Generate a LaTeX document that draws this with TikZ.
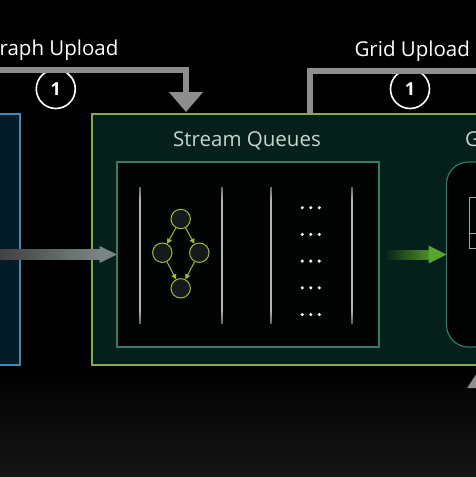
\documentclass[tikz,border=0pt]{standalone}
\usepackage{fontspec}
\setmainfont{Open Sans}
\usetikzlibrary{arrows.meta,calc}
\definecolor{bluebd}{HTML}{3A8CC0}
\definecolor{bluefill}{HTML}{041C28}
\definecolor{greenbd}{HTML}{8CAB3C}
\definecolor{greenfill}{HTML}{05201A}
\definecolor{innerbd}{HTML}{3A7A64}
\definecolor{innerfill}{HTML}{020404}
\definecolor{roundbd}{HTML}{2F7A62}
\definecolor{titletext}{HTML}{C3D6CE}
\definecolor{conngray}{HTML}{8E8E8E}
\definecolor{arrowgray}{HTML}{7A8585}
\definecolor{nodegreen}{HTML}{9CBB34}
\definecolor{nodefill}{HTML}{18191A}
\definecolor{flowgreen}{HTML}{5AA52C}
\definecolor{tablegray}{HTML}{A8A8A8}
\definecolor{bgbottom}{HTML}{151515}
\definecolor{qgray}{HTML}{B4B4B4}
\begin{document}
\begin{tikzpicture}[x=1pt,y=-1pt,
  box/.style={inner sep=0pt, outer sep=0pt, line width=1.4pt},
  bigtext/.style={font=\fontsize{20.5}{24}\selectfont},
  stepnum/.style={circle, draw=white, line width=1.6pt, fill=black, minimum size=39pt, inner sep=0pt, text=white, font=\bfseries\fontsize{18}{20}\selectfont},
  conn/.style={draw=conngray, line width=6pt},
  gnode/.style={circle, minimum size=19.4pt, inner sep=0pt, draw=nodegreen, fill=nodefill, line width=1pt},
  garrow/.style={draw=nodegreen, line width=1pt, -{Triangle[length=5pt,width=5pt]}},
  dotmark/.style={circle, fill=white, minimum size=3.4pt, inner sep=0pt}
]
\useasboundingbox (0,0) rectangle (476,477);
\clip (0,0) rectangle (476,477);
\fill[black] (0,0) rectangle (476,477);
\shade[top color=black, bottom color=bgbottom] (0,365) rectangle (476,477);

% step circles (drawn below connector lines)
\node[stepnum] (s1) at (55.8,89) {1};
\node[stepnum] (s2) at (410,89) {1};

% top connectors
\coordinate (gstart) at (-10,70);
\coordinate (gtip) at (186,112);
\draw[conn, -{Triangle[length=20pt,width=33pt]}] (gstart) -| (gtip);
\coordinate (rstart) at (490,71);
\coordinate (rend) at (309.5,114);
\draw[conn] (rstart) -| (rend);

% labels
\node[bigtext, text=white, anchor=base east] (lblgraph) at (122,55.5) {Graph Upload};
\node[bigtext, text=white, anchor=base west] (lblgrid) at (351,56.5) {Grid Upload};

% boxes
\node[box, draw=bluebd, fill=bluefill, minimum width=30pt, minimum height=251pt] (cpu) at (5,239.5) {};
\node[box, draw=greenbd, fill=greenfill, minimum width=408pt, minimum height=251pt] (green) at (296,239.5) {};
\node[box, draw=innerbd, fill=innerfill, line width=1.2pt, minimum width=262pt, minimum height=185pt] (inner) at (248,254.5) {};
\node[box, draw=roundbd, fill=innerfill, line width=1.2pt, rounded corners=22pt, minimum width=94pt, minimum height=185pt] (rbox) at (493.5,254.5) {};

\node[bigtext, text=titletext, anchor=base] (sq) at (247,146) {Stream Queues};
\node[bigtext, text=titletext, anchor=base west] (gmu) at (461.5,146) {G};

% table inside round box
\node[box, draw=tablegray, line width=0.8pt, minimum width=40pt, minimum height=51pt, anchor=north west] (tbl) at (469,197) {};
\coordinate (tl) at (469,233);
\coordinate (tr) at (510,233);
\draw[tablegray, line width=0.8pt] (tl) -- (tr);

% gray arrow from left box into queues
\shade[left color=black!75!white, right color=arrowgray] (-2,249.8) rectangle ($(inner.west)+(-17,4.7)$);
\fill[arrowgray] ($(inner.west)+(-17.5,-8.5)$) -- (inner.west) -- ($(inner.west)+(-17.5,8.5)$) -- cycle;

% green arrow into round box
\shade[left color=greenfill, right color=flowgreen!85!black] (384,250) rectangle ($(rbox.west)+(-18,4.5)$);
\fill[flowgreen] ($(rbox.west)+(-18,-9)$) -- (rbox.west) -- ($(rbox.west)+(-18,9)$) -- cycle;

% queue separator lines
\foreach \xx in {140,222,271,352}{
  \shade[top color=black!60!white, bottom color=qgray] (\xx-0.9,187) rectangle (\xx+0.9,200);
  \fill[qgray] (\xx-0.9,199.8) rectangle (\xx+0.9,310.2);
  \shade[top color=qgray, bottom color=black!60!white] (\xx-0.9,310) rectangle (\xx+0.9,323);
}

% graph
\node[gnode] (n1) at (180.7,219) {};
\node[gnode] (n2) at (162.3,252.7) {};
\node[gnode] (n3) at (199.3,252.7) {};
\node[gnode] (n4) at (180.7,288.3) {};
\draw[garrow] (n1) -- (n2);
\draw[garrow] (n1) -- (n3);
\draw[garrow] (n2) -- (n4);
\draw[garrow] (n3) -- (n4);

% dots
\foreach \yy [count=\i] in {207.7,234.4,261.1,287.8,314.5}{
  \node[dotmark] (da\i) at (302.3,\yy) {};
  \node[dotmark] (db\i) at (310.8,\yy) {};
  \node[dotmark] (dc\i) at (319.3,\yy) {};
}

% bottom right upward arrow
\coordinate (ubot) at (480,480);
\coordinate (utop) at (480,368);
\draw[conn, -{Triangle[length=20pt,width=24pt]}] (ubot) -- (utop);
\end{tikzpicture}
\end{document}
